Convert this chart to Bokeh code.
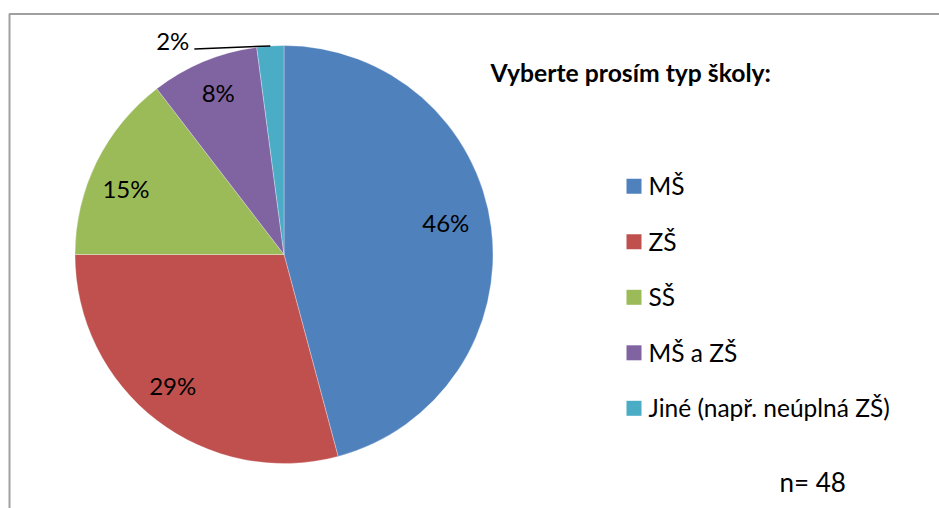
import math
from bokeh.plotting import figure
from bokeh.models import Range1d
from bokeh.core.properties import value
from bokeh.embed import file_html
from bokeh.resources import INLINE

# ---- data ----
categories = ["MŠ", "ZŠ", "SŠ", "MŠ a ZŠ", "Jiné (např. neúplná ZŠ)"]
counts = [22, 14, 7, 4, 1]
pct_labels = ["46%", "29%", "15%", "8%", "2%"]
colors = ["#4F81BD", "#C0504D", "#9BBB59", "#8064A2", "#4BACC6"]
title_text = "Vyberte prosím typ školy:"
n_text = "n= 48"

# ---- layout (screen-like coordinates: x right, y up = 508 - screen y) ----
W, H = 939, 508
FONT = "Lato"
TDY = 8  # text baseline correction
cx, cy, R = 283.5, 508 - 254, 209
label_r = [0.79, 0.82, 0.82, 0.84]
label_nudge = [4.0, -3.0, 3.5, -0.5]

p = figure(width=W, height=H, output_backend="svg", toolbar_location=None,
           x_range=Range1d(0, W), y_range=Range1d(0, H),
           min_border=0, outline_line_color=None)
p.axis.visible = False
p.grid.visible = False
p.background_fill_color = "white"

# chart border (top & left visible)
p.line(x=[9, 9, 940], y=[0, 508 - 13.5, 508 - 13.5], line_color="#A0A0A0", line_width=2)

total = sum(counts)
start = 90.0
starts, ends, mids = [], [], []
for c in counts:
    sweep = 360.0 * c / total
    a1 = start
    a2 = start - sweep
    starts.append(math.radians(a2))
    ends.append(math.radians(a1))
    mids.append((a1 + a2) / 2)
    start = a2

p.wedge(x=cx, y=cy, radius=R, start_angle=starts, end_angle=ends,
        direction="anticlock", fill_color=colors, line_color="white",
        line_width=0.5, line_alpha=0.6)

# inside labels
FS = "24px"
DIGIT_H = 17
lx, ly, lt = [], [], []
for i in range(4):
    a = math.radians(mids[i] + label_nudge[i])
    lx.append(cx + label_r[i] * R * math.cos(a))
    ly.append(cy + label_r[i] * R * math.sin(a) - DIGIT_H / 2 + TDY)
    lt.append(pct_labels[i])
p.text(x=lx, y=ly, text=lt, text_font=value(FONT), text_font_size=FS,
       text_align="center", text_baseline="alphabetic", text_color="black")

# outside label for the small slice with leader line
a = math.radians(mids[4])
ex, ey = cx + R * math.cos(a), cy + R * math.sin(a)
p.line(x=[ex, ex - 76], y=[ey, ey - 3], line_color="black", line_width=1.5)
p.text(x=[ex - 81], y=[ey - 2.5 + TDY], text=[pct_labels[4]], text_font=value(FONT),
       text_font_size=FS, text_align="right", text_baseline="alphabetic", text_color="black")

# title
p.text(x=[490], y=[508 - 80 + TDY], text=[title_text], text_font=value(FONT), text_font_size="24.7px",
       text_font_style="bold", text_align="left", text_baseline="alphabetic", text_color="black")

# legend
leg_base0, leg_step = 508 - 193.3, 55.5
bx = [633.5] * len(categories)
by = [leg_base0 - i * leg_step + 7.5 for i in range(len(categories))]
p.rect(x=bx, y=by, width=15, height=15, fill_color=colors, line_color=None)
p.text(x=[648] * len(categories), y=[leg_base0 - i * leg_step + TDY for i in range(len(categories))],
       text=categories, text_font=value(FONT), text_font_size="24.5px",
       text_align="left", text_baseline="alphabetic", text_color="black")

# n
p.text(x=[779], y=[508 - 489 + TDY], text=[n_text], text_font=value(FONT), text_font_size="26px",
       text_align="left", text_baseline="alphabetic", text_color="black")

open("out.html", "w").write(file_html(p, INLINE))
